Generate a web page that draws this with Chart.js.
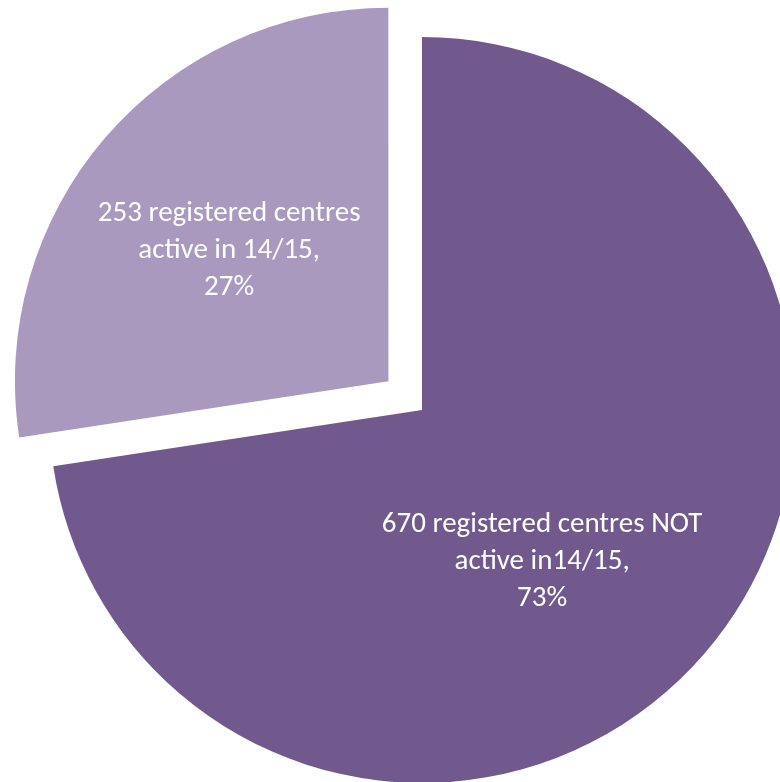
<!DOCTYPE html>
<html>
<head>
<meta charset="utf-8">
<script src="https://cdn.jsdelivr.net/npm/chart.js@4"></script>
<style>
  html, body { margin: 0; padding: 0; background: #ffffff; overflow: hidden; }
  #wrap { position: relative; width: 780px; height: 782px; }
</style>
</head>
<body>
<div id="wrap"><canvas id="c"></canvas></div>
<script>
// ---- data ----
const categories = ["registered centres NOT active in14/15", "registered centres active in 14/15"];
const counts = [670, 253];
const percents = ["73%", "27%"];
const labelLines = [
  ["670 registered centres NOT", "active in14/15,", "73%"],
  ["253 registered centres", "active in 14/15,", "27%"]
];
const colors = ["#71598e", "#a999be"];

// label placement relative to each slice's (offset) centre, in units of radius
const labelAnchor = [[0.322, 0.407], [-0.426, -0.349]];

const sliceLabels = {
  id: 'sliceLabels',
  afterDatasetsDraw(chart) {
    const ctx = chart.ctx;
    const meta = chart.getDatasetMeta(0);
    ctx.save();
    ctx.fillStyle = '#ffffff';
    ctx.textAlign = 'center';
    ctx.textBaseline = 'middle';
    ctx.font = '29px Carlito, Calibri, Lato, sans-serif';
    meta.data.forEach((arc, i) => {
      const p = arc.getProps(['x','y','startAngle','endAngle','outerRadius','circumference'], true);
      const off = (arc.options.offset || 0) / 4;
      const half = (p.startAngle + p.endAngle) / 2;
      const fix = 1 - Math.sin(Math.min(Math.PI, p.circumference || 0));
      const t = off * (1 + fix);
      const cx = p.x + Math.cos(half) * t;
      const cy = p.y + Math.sin(half) * t;
      const ax = cx + labelAnchor[i][0] * p.outerRadius;
      const ay = cy + labelAnchor[i][1] * p.outerRadius;
      const lines = labelLines[i];
      const lh = 37;
      lines.forEach((ln, k) => {
        ctx.fillText(ln, ax, ay + (k - (lines.length - 1) / 2) * lh);
      });
    });
    ctx.restore();
  }
};

new Chart(document.getElementById('c'), {
  type: 'pie',
  data: {
    labels: categories,
    datasets: [{
      data: counts,
      backgroundColor: colors,
      borderWidth: 0,
      offset: [0, 177],
      clip: false
    }]
  },
  options: {
    responsive: true,
    maintainAspectRatio: false,
    animation: false,
    radius: 373,
    layout: { padding: { left: 64, top: 38, right: 0, bottom: 0 } },
    plugins: {
      legend: { display: false },
      tooltip: { enabled: false }
    }
  },
  plugins: [sliceLabels]
});
</script>
</body>
</html>
